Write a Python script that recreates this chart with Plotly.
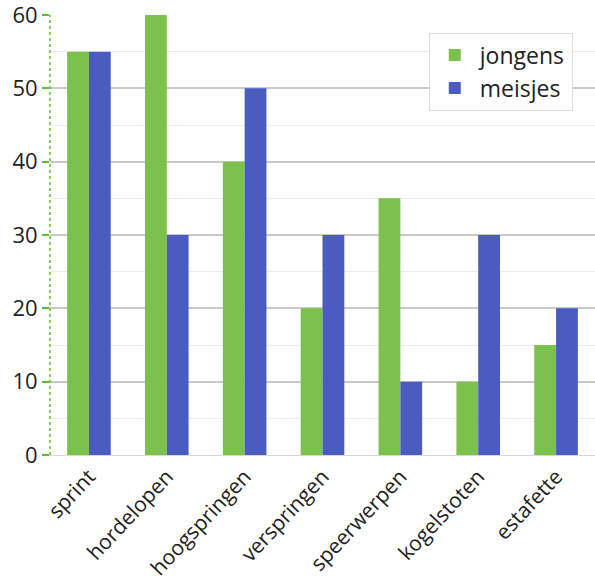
import plotly.graph_objects as go

# Data
categories = ["sprint", "hordelopen", "hoogspringen", "verspringen",
              "speerwerpen", "kogelstoten", "estafette"]
jongens = [55, 60, 40, 20, 35, 10, 15]
meisjes = [55, 30, 50, 30, 10, 30, 20]
y_ticks = [0, 10, 20, 30, 40, 50, 60]

GREEN = "#7cc14c"
BLUE = "#4a5cc0"
AXIS_GREEN = "#5cc02a"

fig = go.Figure()
fig.add_trace(go.Bar(x=categories, y=jongens, name="jongens",
                     marker=dict(color=GREEN, line=dict(width=0))))
fig.add_trace(go.Bar(x=categories, y=meisjes, name="meisjes",
                     marker=dict(color=BLUE, line=dict(width=0))))

# dashed green y-axis line
fig.add_shape(type="line", xref="paper", yref="paper", x0=0, x1=0, y0=0, y1=1,
              line=dict(color=AXIS_GREEN, width=1.5, dash="dot"))

fig.update_layout(
    width=595, height=583,
    margin=dict(l=50, r=0, t=15, b=128),
    paper_bgcolor="white",
    plot_bgcolor="white",
    barmode="group",
    bargap=0.44,
    bargroupgap=0,
    font=dict(family="Open Sans, sans-serif", color="#222222", size=19),
    legend=dict(x=0.695, y=0.96, xanchor="left", yanchor="top",
                bgcolor="white", bordercolor="#dddddd", borderwidth=1,
                font=dict(size=23), itemwidth=40, tracegroupgap=12),
    showlegend=True,
)
fig.update_xaxes(
    tickangle=-47, tickfont=dict(size=21), automargin=False,
    showline=True, linecolor="#d8d8d8", linewidth=1,
    ticks="", showgrid=False,
)
fig.update_yaxes(
    range=[0, 60], tickvals=y_ticks, tickfont=dict(size=22), automargin=False,
    ticklabeloverflow="allow",
    showgrid=True, gridcolor="#c9c9c9", gridwidth=1.5,
    minor=dict(dtick=5, showgrid=True, gridcolor="#ececec", gridwidth=1),
    ticks="outside", ticklen=7, tickcolor=AXIS_GREEN, tickwidth=1.5,
    zeroline=False, showline=False,
)

# remove the default page margin so the chart sits at the window edge
fig.write_html("out.html", config={"displayModeBar": False},
               post_script="document.body.style.margin='0';")
